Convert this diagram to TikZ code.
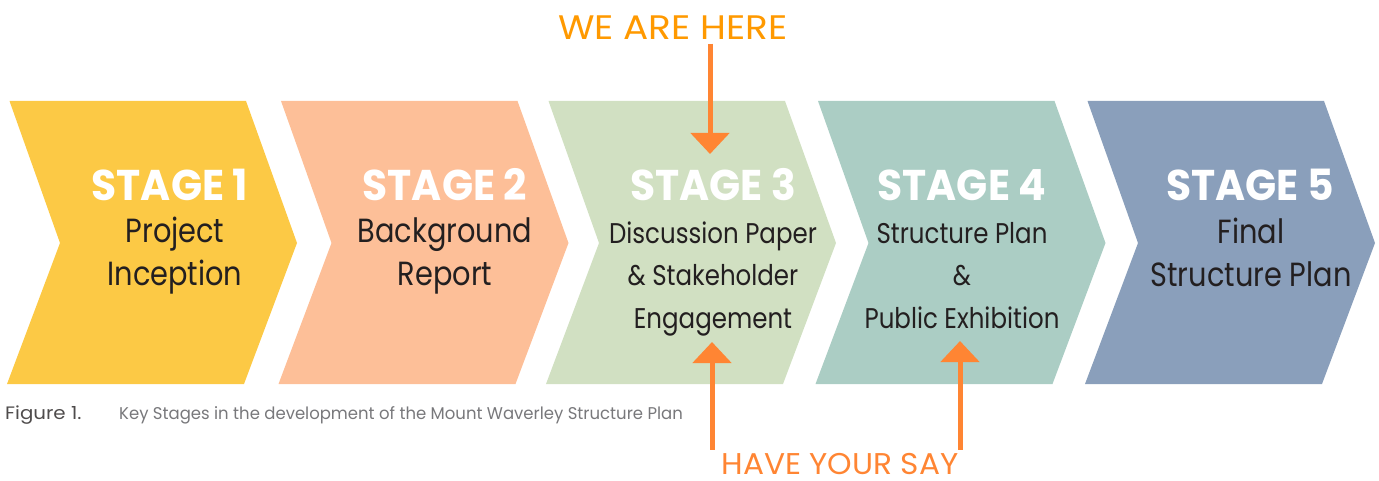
\documentclass[tikz,border=0pt]{standalone}
\usepackage{fontspec}
\setmainfont{Poppins}
\newfontfamily\titlefont{Poppins}[FakeStretch=0.95]
\newfontfamily\bodyfont{Poppins}[FakeStretch=0.86]
\newfontfamily\herefont{Poppins}[FakeStretch=1.1]
\newfontfamily\sayfont{Poppins}[FakeStretch=1.04]
\newfontfamily\capfont{Poppins}[FakeStretch=0.97]
\usetikzlibrary{arrows.meta, positioning}
\definecolor{stage1}{RGB}{252, 201, 69}
\definecolor{stage2}{RGB}{253, 191, 152}
\definecolor{stage3}{RGB}{209, 224, 194}
\definecolor{stage4}{RGB}{171, 205, 196}
\definecolor{stage5}{RGB}{138, 159, 187}
\definecolor{herecol}{RGB}{255, 153, 0}
\definecolor{saycol}{RGB}{255, 133, 51}
\definecolor{ink}{RGB}{35, 31, 32}
\definecolor{capgray}{RGB}{120, 120, 123}

\begin{document}
\begin{tikzpicture}[x=1pt, y=-1pt,
    title/.style={anchor=base, text=white, font=\titlefont\bfseries\fontsize{43}{43}\selectfont},
    body/.style={anchor=base, align=center, text=ink, font=\bodyfont\fontsize{33.5}{42.5}\selectfont},
    bodysmall/.style={anchor=base, align=center, text=ink, font=\bodyfont\fontsize{28.5}{42.5}\selectfont},
    pointer/.style={-{Triangle[width=38pt, length=21pt]}, line width=5pt, draw=saycol}]
    \useasboundingbox (0,0) rectangle (1379,481);

    % Chevrons
    \fill[stage1, shift={(8,0)}] (1.5,101) -- (238,101) -- (289,243) -- (236,384) -- (-1,384) -- (52,243) -- cycle;
    \fill[stage2, shift={(279.5,0)}] (1.5,101) -- (238,101) -- (289,243) -- (236,384) -- (-1,384) -- (52,243) -- cycle;
    \fill[stage3, shift={(547,0)}] (1.5,101) -- (238,101) -- (289,243) -- (236,384) -- (-1,384) -- (52,243) -- cycle;
    \fill[stage4, shift={(816.5,0)}] (1.5,101) -- (238,101) -- (289,243) -- (236,384) -- (-1,384) -- (52,243) -- cycle;
    \fill[stage5, shift={(1086,0)}] (1.5,101) -- (238,101) -- (289,243) -- (236,384) -- (-1,384) -- (52,243) -- cycle;

    % Stage titles
    \node[title] (t1) at (170, 201) {STAGE 1};
    \node[title] (t2) at (445, 201) {STAGE 2};
    \node[title] (t3) at (713, 201) {STAGE 3};
    \node[title] (t4) at (962, 201) {STAGE 4};
    \node[title] (t5) at (1250, 201) {STAGE 5};

    % Stage texts (anchored on the last line)
    \node[body] (b1) at (175, 285) {Project\\Inception};
    \node[body] (b2) at (445, 285) {Background\\Report};
    \node[bodysmall] (b3) at (713, 328) {Discussion Paper\\\& Stakeholder\\Engagement};
    \node[bodysmall] (b4) at (962, 328) {Structure Plan\\\&\\Public Exhibition};
    \node[body] (b5) at (1251, 286) {Final\\Structure Plan};

    % Call-outs
    \node[anchor=base, text=herecol, font=\herefont\fontsize{34}{34}\selectfont] (we) at (673, 40) {WE ARE HERE};
    \node[anchor=base, text=saycol, font=\sayfont\fontsize{30}{30}\selectfont, inner sep=3pt] (say) at (840, 474) {HAVE YOUR SAY};
    \coordinate (here) at (710, 154);
    \coordinate (p3) at (712, 342);
    \coordinate (p4) at (960, 341);

    \draw[pointer] (we.south -| here) -- (here);
    \draw[pointer] (say.north -| p3) -- (p3);
    \draw[pointer] (say.north -| p4) -- (p4);

    % Caption
    \node[anchor=base west, inner sep=0, text=ink!80, font=\herefont\fontsize{18}{18}\selectfont] (fig) at (5, 419) {Figure 1.};
    \node[anchor=base west, inner sep=0, text=capgray, font=\capfont\fontsize{17}{17}\selectfont] (cap) at (119, 419)
        {Key Stages in the development of the Mount Waverley Structure Plan};
\end{tikzpicture}
\end{document}
